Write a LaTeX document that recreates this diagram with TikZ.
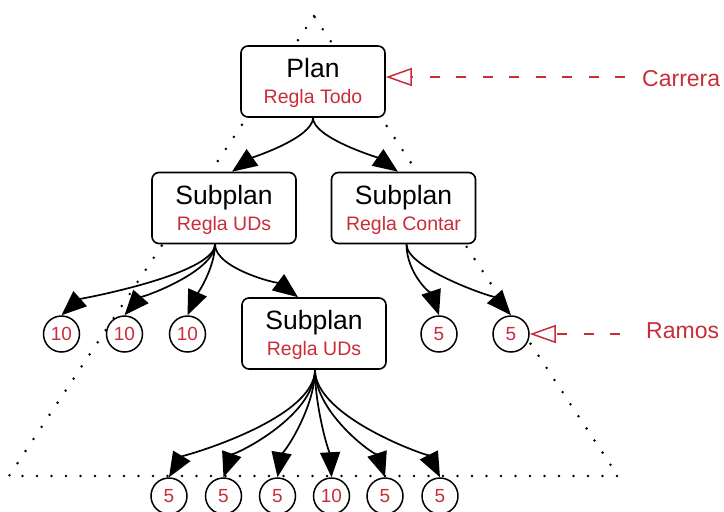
\documentclass[tikz,border=0pt]{standalone}
\usepackage{fontspec}
\setmainfont{Liberation Sans}
\usetikzlibrary{arrows.meta}
\definecolor{lred}{HTML}{C92D39}
\begin{document}
\begin{tikzpicture}[x=1pt,y=-1pt,
  box/.style={draw=black, line width=1.6pt, rounded corners=7pt, fill=white,
    minimum width=144pt, minimum height=71pt, inner sep=0pt},
  circ/.style={circle, draw=black, line width=1.5pt, fill=white, minimum size=36pt,
    inner sep=0pt, text=lred, font=\fontsize{19}{19}\selectfont},
  bigtxt/.style={font=\fontsize{26.5}{26.5}\selectfont, anchor=base, inner sep=0pt},
  redtxt/.style={font=\fontsize{19.5}{19.5}\selectfont, text=lred, anchor=base, inner sep=0pt},
  sidetxt/.style={font=\fontsize{23}{23}\selectfont, text=lred, anchor=base west, inner sep=0pt},
  arr/.style={line width=1.7pt, -{Triangle[length=25pt,width=20pt]}},
  ptr/.style={draw=lred, line width=1.5pt, dash pattern=on 10pt off 16.5pt,
    -{Triangle[open,length=26pt,width=18pt]}},
  dotline/.style={line width=2.8pt, line cap=round, dash pattern=on 0pt off 14.5pt}
]
\useasboundingbox (0,0) rectangle (724,512);

% dotted triangle
\draw[dotline] (314,16) -- (9,476) -- (618,476) -- cycle;

% boxes
\node[box] (plan) at (313,81.5) {};
\node[box] (sub1) at (224,208) {};
\node[box] (sub2) at (403.5,208) {};
\node[box] (sub3) at (314,333.5) {};

\node[bigtxt] (plant) at (313,77) {Plan};
\node[redtxt] (planr) at (313,103) {Regla Todo};
\node[bigtxt] (sub1t) at (224,204) {Subplan};
\node[redtxt] (sub1r) at (224,230) {Regla UDs};
\node[bigtxt] (sub2t) at (403.5,204) {Subplan};
\node[redtxt] (sub2r) at (403.5,230) {Regla Contar};
\node[bigtxt] (sub3t) at (314,329) {Subplan};
\node[redtxt] (sub3r) at (314,355) {Regla UDs};

% circles
\node[circ] (c1) at (61.5,334) {10};
\node[circ] (c2) at (124.5,334) {10};
\node[circ] (c3) at (187.5,334) {10};
\node[circ] (c4) at (439,334) {5};
\node[circ] (c5) at (511,334) {5};

\node[circ] (b1) at (169,496) {5};
\node[circ] (b2) at (223.5,496) {5};
\node[circ] (b3) at (277.5,496) {5};
\node[circ] (b4) at (331.5,496) {10};
\node[circ] (b5) at (385,496) {5};
\node[circ] (b6) at (440,496) {5};

% connectors
\draw[arr] (plan.south) .. controls +(0,20) and +(20,-14) .. ([xshift=8pt]sub1.north);
\draw[arr] (plan.south) .. controls +(0,20) and +(-20,-14) .. ([xshift=-5.5pt]sub2.north);

\draw[arr] ([xshift=-9pt]sub1.south) .. controls +(0,30) and +(18,-16) .. (c1.north);
\draw[arr] ([xshift=-9pt]sub1.south) .. controls +(0,28) and +(14,-16) .. (c2.north);
\draw[arr] ([xshift=-9pt]sub1.south) .. controls +(0,25) and +(7,-16) .. (c3.north);
\draw[arr] ([xshift=-9pt]sub1.south) .. controls +(0,25) and +(-16,-12) .. ([xshift=-16pt]sub3.north);

\draw[arr] ([xshift=3pt]sub2.south) .. controls +(0,30) and +(-6,-18) .. (c4.north);
\draw[arr] ([xshift=3pt]sub2.south) .. controls +(0,25) and +(-14,-16) .. (c5.north);

\draw[arr] ([xshift=1pt]sub3.south) .. controls +(0,50) and +(12,-20) .. (b1.north);
\draw[arr] ([xshift=1pt]sub3.south) .. controls +(0,48) and +(7,-20) .. (b2.north);
\draw[arr] ([xshift=1pt]sub3.south) .. controls +(0,40) and +(3,-18) .. (b3.north);
\draw[arr] ([xshift=1pt]sub3.south) .. controls +(0,40) and +(-1,-18) .. (b4.north);
\draw[arr] ([xshift=1pt]sub3.south) .. controls +(0,45) and +(-6,-18) .. (b5.north);
\draw[arr] ([xshift=1pt]sub3.south) .. controls +(0,48) and +(-10,-20) .. (b6.north);

% side labels
\node[sidetxt] (carrera) at (642,86.5) {Carrera};
\node[sidetxt] (ramos) at (646,338) {Ramos};
\coordinate (cr) at (625,77);
\coordinate (rm) at (620,334);
\draw[ptr] (cr) -- ([yshift=4.5pt]plan.east);
\draw[ptr] (rm) -- (c5.east);
\end{tikzpicture}
\end{document}
